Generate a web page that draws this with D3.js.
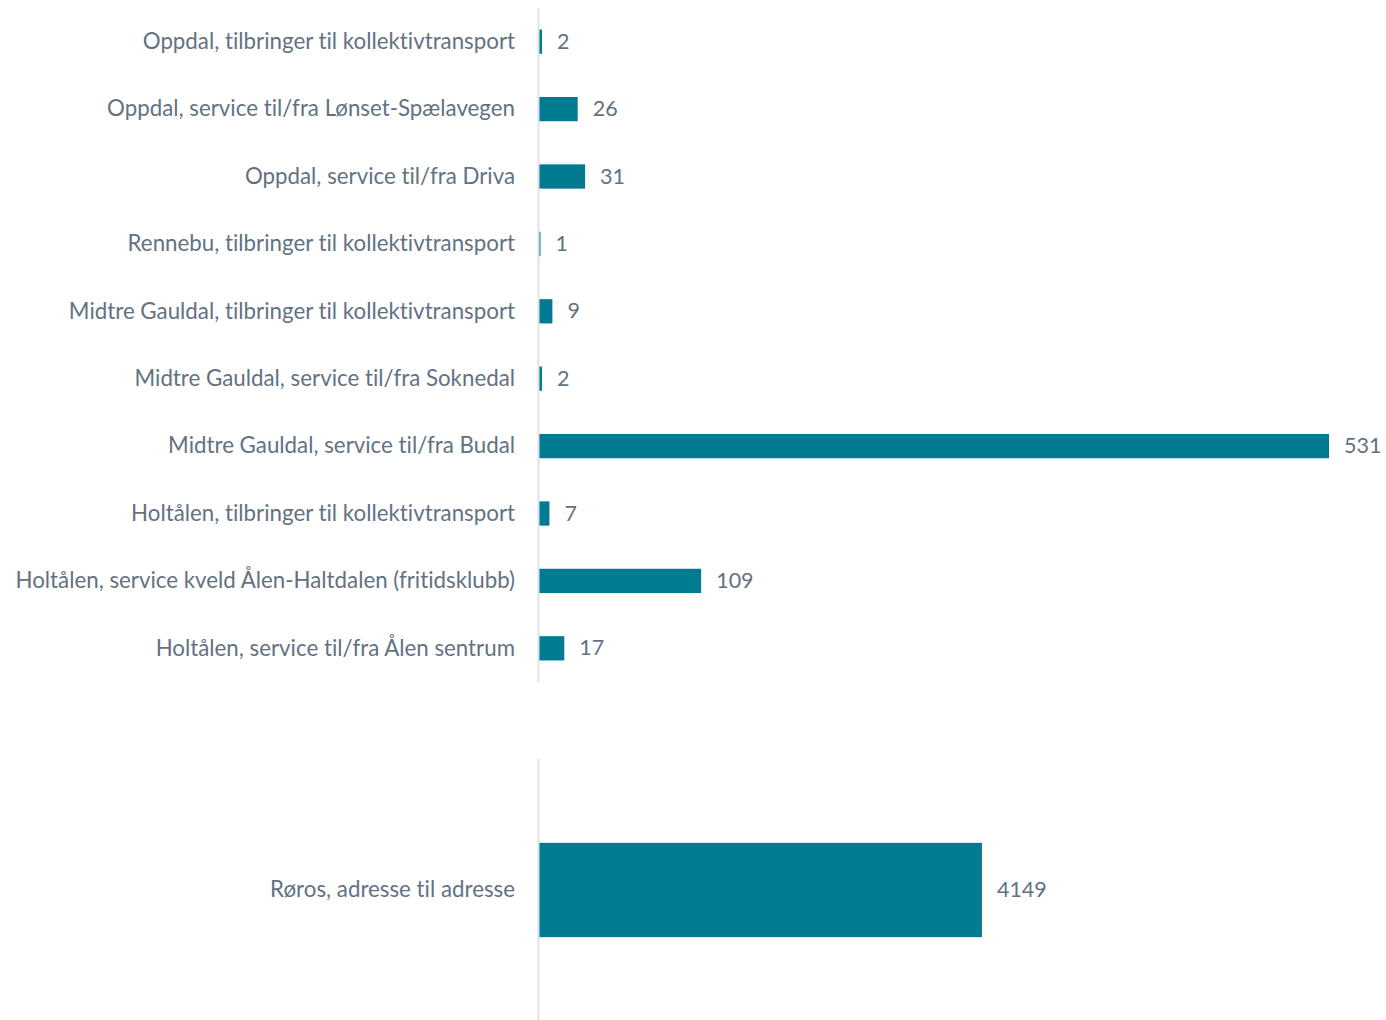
<!DOCTYPE html>
<html>
<head>
<meta charset="utf-8">
<script src="https://cdn.jsdelivr.net/npm/d3@7"></script>
<style>
  body { margin: 0; background: #fff; }
  text { font-family: Lato, "Open Sans", sans-serif; font-variant-ligatures: none; }
</style>
</head>
<body>
<div class="canva"></div>
<script>
// data
const topCategories = [
    'Oppdal, tilbringer til kollektivtransport',
    'Oppdal, service til/fra Lønset-Spælavegen',
    'Oppdal, service til/fra Driva',
    'Rennebu, tilbringer til kollektivtransport',
    'Midtre Gauldal, tilbringer til kollektivtransport',
    'Midtre Gauldal, service til/fra Soknedal',
    'Midtre Gauldal, service til/fra Budal',
    'Holtålen, tilbringer til kollektivtransport',
    'Holtålen, service kveld Ålen-Haltdalen (fritidsklubb)',
    'Holtålen, service til/fra Ålen sentrum'
];
const topValues = [2, 26, 31, 1, 9, 2, 531, 7, 109, 17];

const bottomCategories = ['Røros, adresse til adresse'];
const bottomValues = [4149];

const barColor = '#007b91';
const textColor = '#627282';
const axisColor = '#dde2e8';

const svg = d3.select('.canva').append('svg')
    .attr('width', 1386)
    .attr('height', 1020);

function panel(categories, values, xMax, top, bottom) {
    const x = d3.scaleLinear()
        .domain([0, xMax])
        .range([539, 1329]);

    const y = d3.scaleBand()
        .domain(categories)
        .range([top, bottom])
        .paddingInner(0.64)
        .paddingOuter(0.32);

    const g = svg.append('g');
    const rows = categories.map((c, i) => ({cat: c, val: values[i]}));

    g.selectAll('rect')
        .data(rows)
        .enter().append('rect')
        .attr('x', x(0))
        .attr('y', d => y(d.cat))
        .attr('width', d => x(d.val) - x(0))
        .attr('height', y.bandwidth())
        .attr('fill', barColor);

    // category labels
    g.selectAll('.cat')
        .data(rows)
        .enter().append('text')
        .attr('class', 'cat')
        .attr('x', 515)
        .attr('y', d => y(d.cat) + y.bandwidth() / 2)
        .attr('dy', '0.33em')
        .attr('text-anchor', 'end')
        .attr('fill', textColor)
        .style('font-size', '22.3px')
        .text(d => d.cat);

    // value labels
    g.selectAll('.val')
        .data(rows)
        .enter().append('text')
        .attr('class', 'val')
        .attr('x', d => x(d.val) + 15)
        .attr('y', d => y(d.cat) + y.bandwidth() / 2)
        .attr('dy', '0.33em')
        .attr('fill', textColor)
        .style('font-size', '21.5px')
        .text(d => d.val);

    // axis line
    g.append('line')
        .attr('x1', 538.5).attr('x2', 538.5)
        .attr('y1', top).attr('y2', bottom)
        .attr('stroke', axisColor)
        .attr('stroke-width', 2);
}

panel(topCategories, topValues, 531, 8, 682);
panel(bottomCategories, bottomValues, 7400, 759, 1021);
</script>
</body>
</html>
